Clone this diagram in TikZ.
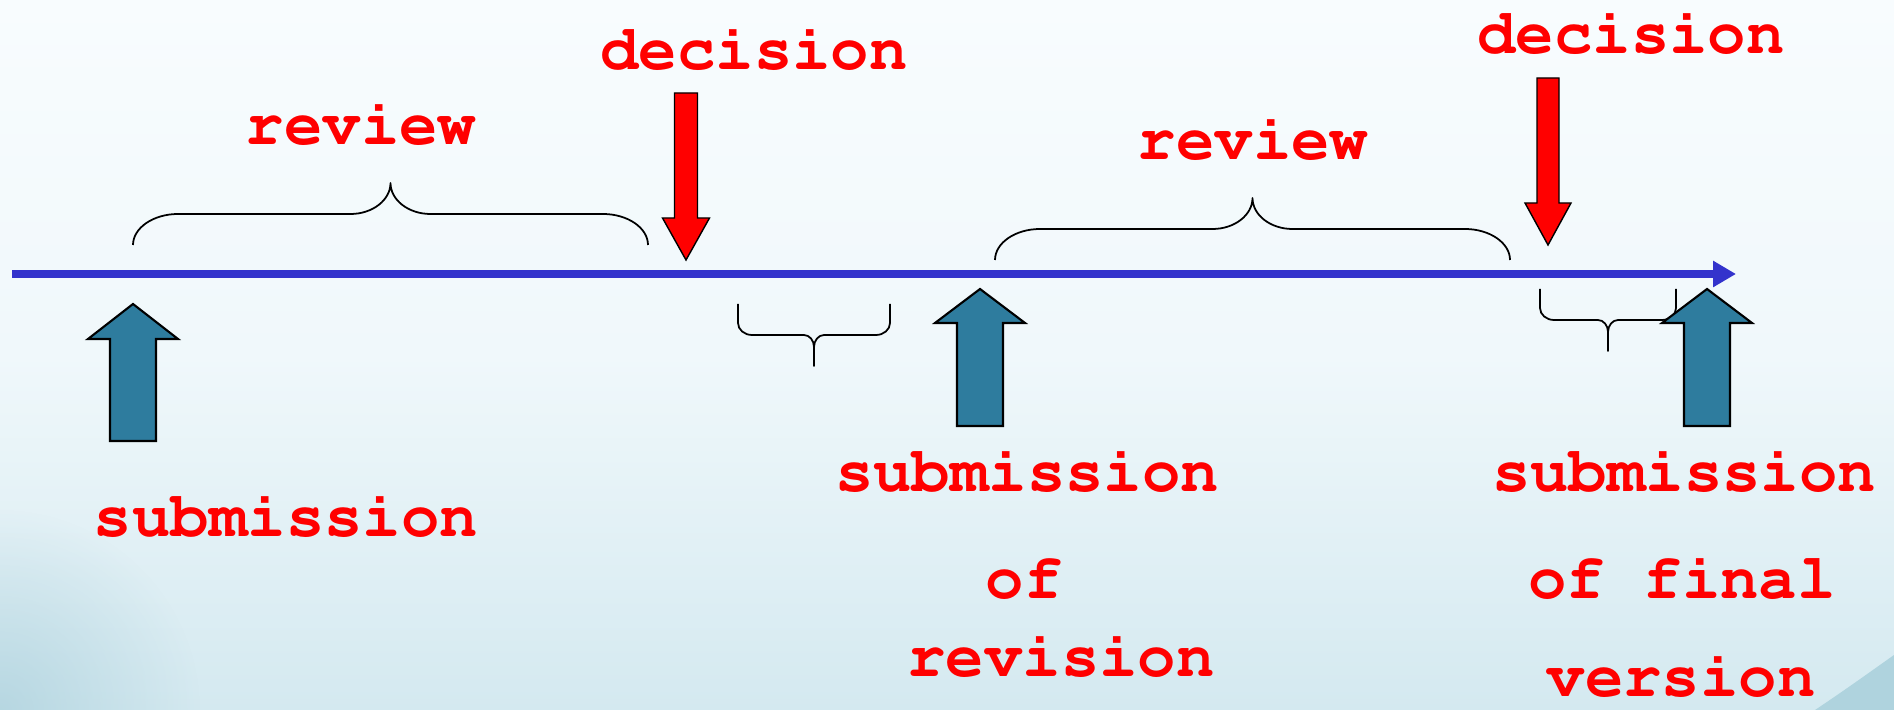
\documentclass[tikz,border=0pt]{standalone}
\usepackage[T1]{fontenc}
\usepackage{courier}
\usetikzlibrary{arrows.meta,fadings}

\definecolor{lineblue}{RGB}{51,51,204}
\definecolor{subteal}{RGB}{46,124,158}
\definecolor{bgtop}{RGB}{248,252,254}
\definecolor{bgmid}{RGB}{240,248,251}
\definecolor{bgbottom}{RGB}{212,233,240}
\definecolor{bgcorner}{RGB}{163,203,216}

\tikzfading[name=cornerfade, inner color=transparent!0, outer color=transparent!100]

% curly brace: x1, x2, end y, height, corner rx, corner ry, tip rx
\newcommand{\tlbrace}[7]{%
  \pgfmathsetmacro{\bxm}{(#1+#2)/2}%
  \pgfmathsetmacro{\byf}{#3-(#4)}%
  \pgfmathsetmacro{\byt}{#3-2*(#4)}%
  \draw[bracestyle] (#1,#3) -- (#1,{\byf+(#6)})
    .. controls (#1,{\byf+0.45*(#6)}) and ({#1+0.45*#5},\byf) .. ({#1+#5},\byf)
    -- ({\bxm-#7},\byf)
    .. controls ({\bxm-0.45*#7},\byf) and (\bxm,{\byf-0.45*(#6)}) .. (\bxm,{\byf-(#6)})
    -- (\bxm,\byt) -- (\bxm,{\byf-(#6)})
    .. controls (\bxm,{\byf-0.45*(#6)}) and ({\bxm+0.45*#7},\byf) .. ({\bxm+#7},\byf)
    -- ({#2-#5},\byf)
    .. controls ({#2-0.45*#5},\byf) and (#2,{\byf+0.45*(#6)}) .. (#2,{\byf+(#6)})
    -- (#2,#3);}

% block arrow: centre x, tip y, shoulder y, end y, head half width, shaft half width, style
\newcommand{\blockarrow}[7]{%
  \draw[#7] (#1,#2) -- ({#1+#5},#3) -- ({#1+#6},#3) -- ({#1+#6},#4)
    -- ({#1-#6},#4) -- ({#1-#6},#3) -- ({#1-#5},#3) -- cycle;}

\begin{document}
\begin{tikzpicture}[x=0.01cm,y=-0.01cm,
    lbl/.style={text=red,anchor=base,inner sep=0pt,
      font=\fontsize{18.2}{20}\selectfont\ttfamily\bfseries},
    timeline/.style={draw=lineblue,line width=2pt,
      -{Triangle[length=0.23cm,width=0.25cm]}},
    subarrow/.style={fill=subteal,draw=black,line width=0.6pt},
    decarrow/.style={fill=red,draw=black,line width=0.4pt},
    bracestyle/.style={draw=black,line width=0.5pt,line join=round}]
  \useasboundingbox (0,0) rectangle (1894,710);
  % background
  \fill[top color=bgtop,bottom color=bgbottom,middle color=bgmid] (0,0) rectangle (1894,710);
  \begin{scope}
    \clip (0,0) rectangle (1894,710);
    \fill[bgcorner,path fading=cornerfade,fill opacity=0.6] (0,710) circle (200);
    \fill[bgcorner!75!bgbottom] (1815,710) .. controls (1845,690) and (1870,672) .. (1894,655)
      -- (1894,710) -- cycle;
  \end{scope}

  % time line
  \coordinate (tl0) at (12,274);
  \coordinate (tl1) at (1736,274);
  \draw[timeline] (tl0) -- (tl1);

  % braces
  \tlbrace{133}{648}{245}{31}{45}{31}{40}
  \tlbrace{995}{1510}{260}{31}{45}{31}{40}
  \tlbrace{738}{890}{304}{-31}{14}{-12}{10}
  \tlbrace{1540}{1676}{289}{-31}{14}{-12}{10}

  % decisions
  \blockarrow{686}{260}{218}{93}{23.5}{11.5}{decarrow}
  \blockarrow{1548}{245}{203}{78}{23}{11}{decarrow}

  % submissions
  \blockarrow{133}{304}{339}{441}{45}{23}{subarrow}
  \blockarrow{980}{289}{323}{426}{45}{23}{subarrow}
  \blockarrow{1707}{289}{323}{426}{45}{23}{subarrow}

  % labels
  \node[lbl] (dec1) at (754,70) {decision};
  \node[lbl] (dec2) at (1631,54) {decision};
  \node[lbl] (rev1) at (361,145) {review};
  \node[lbl] (rev2) at (1253,160) {review};
  \node[lbl] (sub1) at (286,537) {submission};
  \node[lbl] (sub2) at (1027,492) {submission};
  \node[lbl] (of2) at (1024,599) {of};
  \node[lbl] (revis2) at (1061,676) {revision};
  \node[lbl] (sub3) at (1684,492) {submission};
  \node[lbl] (of3) at (1682,599) {of final};
  \node[lbl] (ver3) at (1681,697) {version};
\end{tikzpicture}
\end{document}
